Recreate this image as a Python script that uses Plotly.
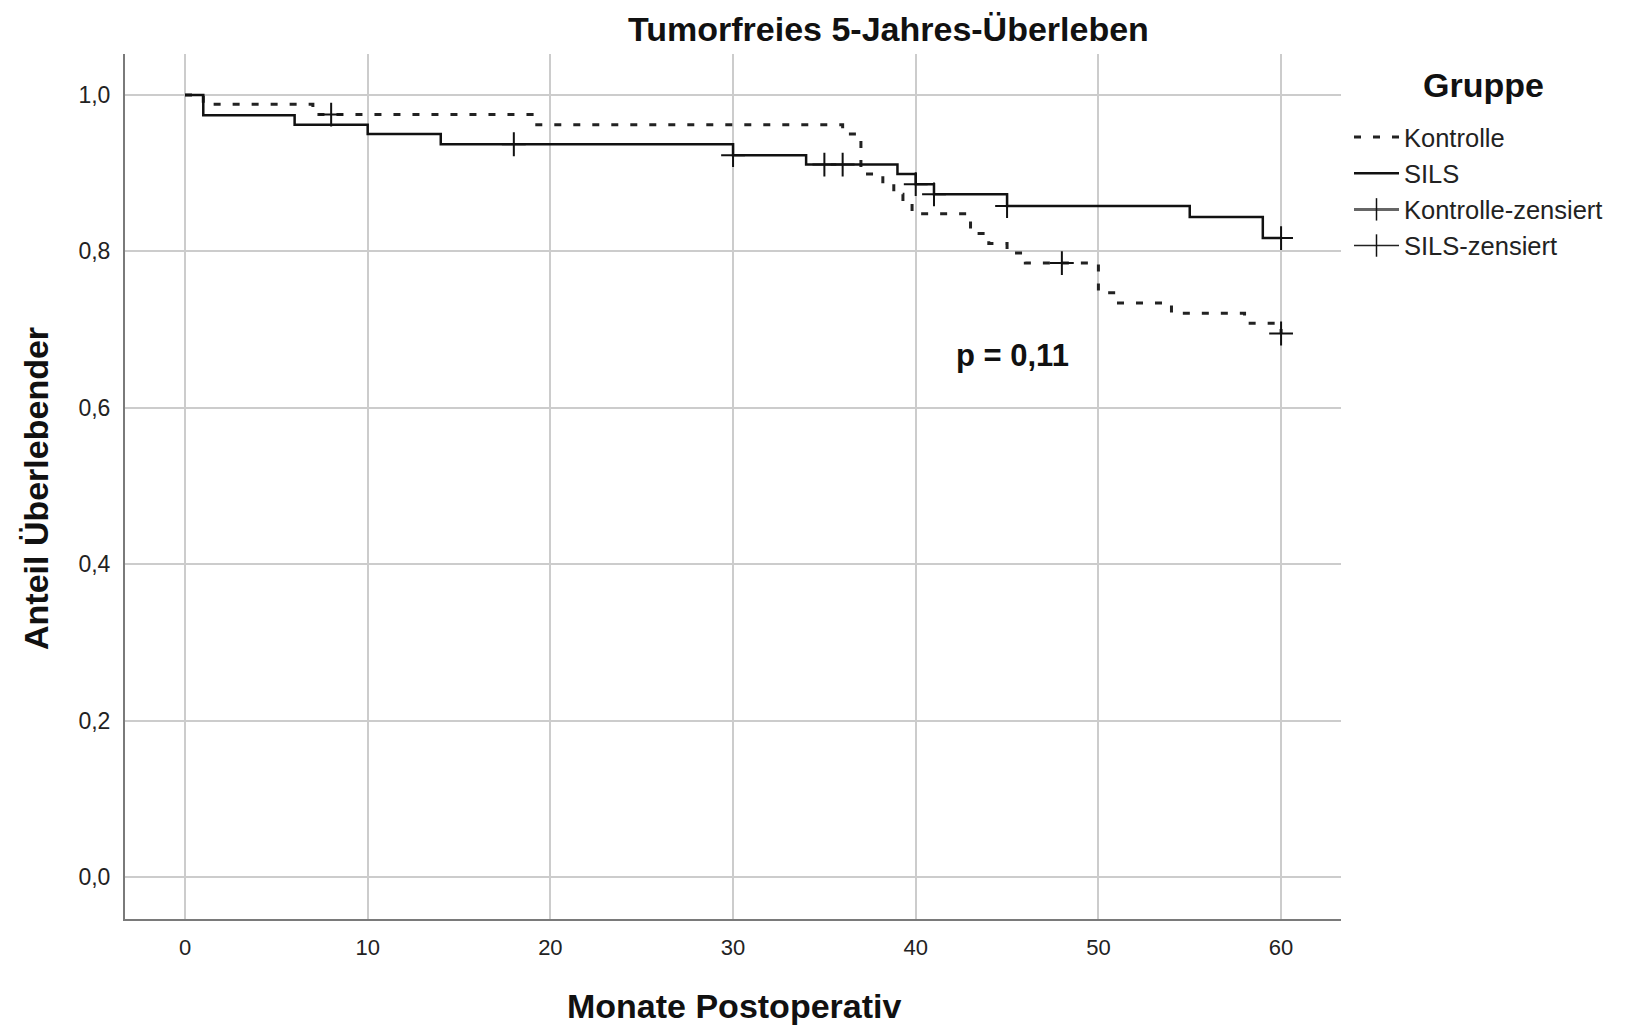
import plotly.graph_objects as go

# ---- data ----
kontrolle_time = [0, 1, 7, 19, 36, 37, 38.2, 38.8, 39.3, 39.8, 43, 44, 45, 46, 50, 51, 54, 58, 60]
kontrolle_surv = [1.0, 0.988, 0.975, 0.962, 0.950, 0.899, 0.886, 0.873, 0.861, 0.848,
                  0.823, 0.810, 0.798, 0.785, 0.747, 0.734, 0.721, 0.708, 0.695]
kontrolle_cens_time = [8, 48, 60]
kontrolle_cens_surv = [0.975, 0.785, 0.695]

sils_time = [0, 1, 6, 10, 14, 30, 34, 39, 40, 41, 45, 55, 59, 60]
sils_surv = [1.0, 0.974, 0.962, 0.950, 0.937, 0.923, 0.911, 0.899, 0.886, 0.873,
             0.858, 0.844, 0.817, 0.817]
sils_cens_time = [18, 30, 35, 36, 40, 41, 45, 60]
sils_cens_surv = [0.937, 0.923, 0.911, 0.911, 0.886, 0.873, 0.858, 0.817]

x_ticks = [0, 10, 20, 30, 40, 50, 60]
y_ticks = [0.0, 0.2, 0.4, 0.6, 0.8, 1.0]

FONT = "Liberation Sans, Arial, sans-serif"

fig = go.Figure()

fig.add_trace(go.Scatter(
    x=kontrolle_time, y=kontrolle_surv, mode="lines", line_shape="hv",
    name="Kontrolle", line=dict(color="#222222", width=3, dash="7px,12px")))
fig.add_trace(go.Scatter(
    x=sils_time, y=sils_surv, mode="lines", line_shape="hv",
    name="SILS", line=dict(color="#111111", width=2.5)))

fig.add_trace(go.Scatter(
    x=kontrolle_cens_time, y=kontrolle_cens_surv, mode="markers", showlegend=False,
    name="Kontrolle-zensiert",
    marker=dict(symbol="cross-thin", size=17, line=dict(color="#111111", width=2))))
fig.add_trace(go.Scatter(
    x=sils_cens_time, y=sils_cens_surv, mode="markers", showlegend=False,
    name="SILS-zensiert",
    marker=dict(symbol="cross-thin", size=17, line=dict(color="#111111", width=2))))

# legend entries for the censoring marks
fig.add_trace(go.Scatter(
    x=[None], y=[None], mode="lines+markers", name="Kontrolle-zensiert",
    line=dict(color="#666666", width=3),
    marker=dict(symbol="line-ns", size=16, line=dict(color="#111111", width=1.5))))
fig.add_trace(go.Scatter(
    x=[None], y=[None], mode="lines+markers", name="SILS-zensiert",
    line=dict(color="#222222", width=1.5),
    marker=dict(symbol="line-ns", size=16, line=dict(color="#111111", width=1.5))))

W, H = 1632, 1028
L, T = 125, 54
R = W - 1341
B = H - 919
pw, ph = W - L - R, H - T - B

def px(xp):
    return (xp - L) / pw

def py(yp):
    return (H - B - yp) / ph

fig.update_layout(
    width=W, height=H,
    margin=dict(l=L, r=R, t=T, b=B, autoexpand=False),
    paper_bgcolor="white", plot_bgcolor="white",
    separators=",.",
    font=dict(family=FONT, size=22, color="#222222"),
    showlegend=True,
    legend=dict(
        x=px(1349), y=py(114), xanchor="left", yanchor="top",
        font=dict(family=FONT, size=25.5, color="#222222"),
        itemwidth=45, tracegroupgap=0, bgcolor="rgba(0,0,0,0)",
    ),
    xaxis=dict(
        range=[-3.285, 63.28], tickvals=x_ticks, ticks="",
        showgrid=True, gridcolor="#cccccc", gridwidth=2,
        showline=True, linecolor="#7a7a7a", linewidth=2, zeroline=False,
        tickfont=dict(family=FONT, size=22, color="#222222"),
        ticklabelstandoff=8,
    ),
    yaxis=dict(
        range=[-0.0537, 1.0524], tickvals=y_ticks, tickformat=".1f", ticks="",
        showgrid=True, gridcolor="#cccccc", gridwidth=2,
        showline=True, linecolor="#7a7a7a", linewidth=2, zeroline=False,
        tickfont=dict(family=FONT, size=23, color="#222222"),
        ticklabelstandoff=8,
    ),
    annotations=[
        dict(text="<b>Tumorfreies 5-Jahres-Überleben</b>", xref="paper", yref="paper",
             x=px(888), y=py(29), xanchor="center", yanchor="middle", showarrow=False,
             font=dict(family=FONT, size=34, color="#111111")),
        dict(text="<b>Anteil Überlebender</b>", xref="paper", yref="paper",
             x=px(36), y=py(489), xanchor="center", yanchor="middle", textangle=-90,
             showarrow=False, font=dict(family=FONT, size=34, color="#111111")),
        dict(text="<b>Monate Postoperativ</b>", xref="paper", yref="paper",
             x=px(734), y=py(1006), xanchor="center", yanchor="middle",
             showarrow=False, font=dict(family=FONT, size=34, color="#111111")),
        dict(text="<b>Gruppe</b>", xref="paper", yref="paper",
             x=px(1483), y=py(85), xanchor="center", yanchor="middle",
             showarrow=False, font=dict(family=FONT, size=34, color="#111111")),
        dict(text="<b>p = 0,11</b>", xref="x", yref="y", x=45.3, y=0.667,
             xanchor="center", yanchor="middle", showarrow=False,
             font=dict(family=FONT, size=31, color="#111111")),
    ],
)

# remove the default 8px page margin so the figure fills the window exactly
fig.write_html(
    "out.html",
    config={"displayModeBar": False},
    post_script="document.body.style.margin='0';document.body.style.overflow='hidden';",
)
